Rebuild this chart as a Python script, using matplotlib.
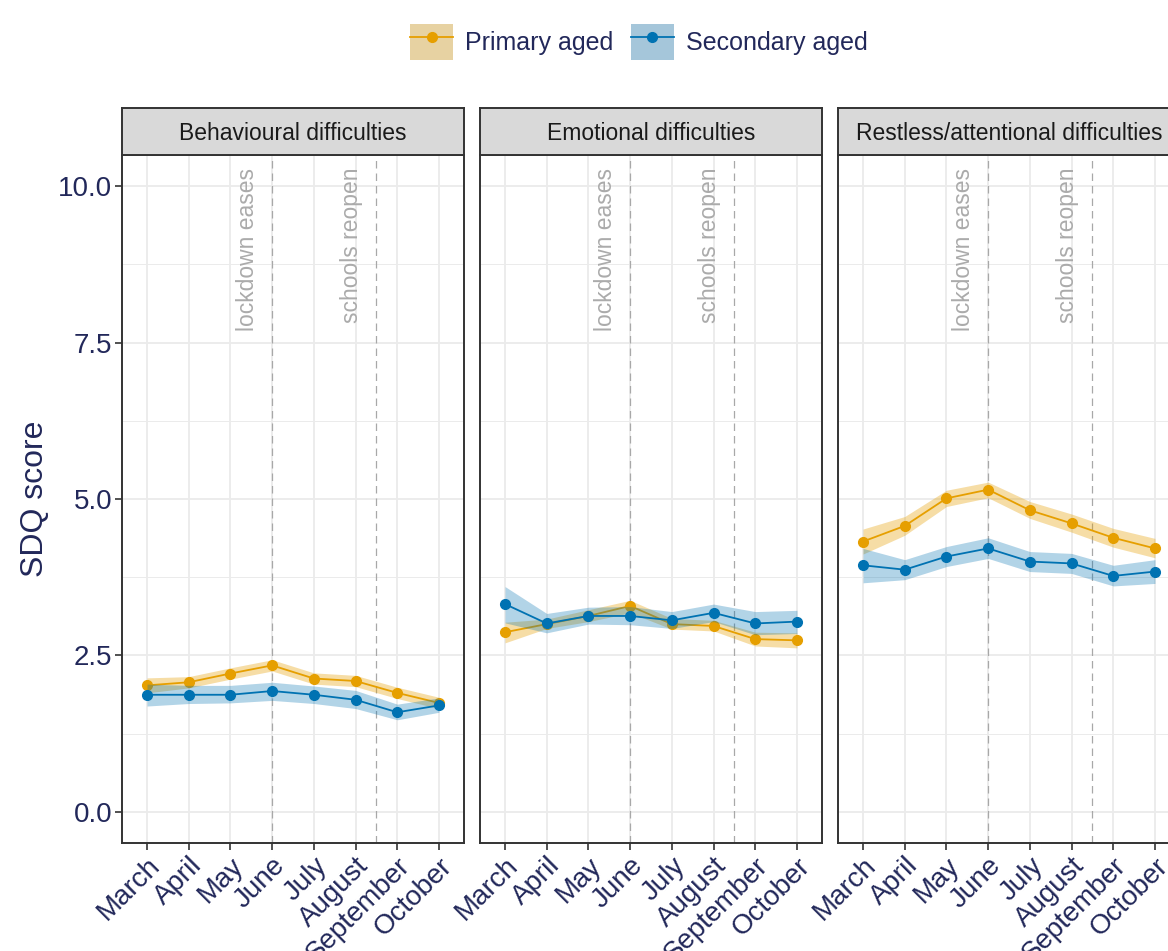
import matplotlib
matplotlib.use("Agg")
import matplotlib.pyplot as plt
from matplotlib.patches import Patch
from matplotlib.lines import Line2D
from matplotlib.legend_handler import HandlerTuple

plt.rcParams['font.family'] = ['Liberation Sans', 'DejaVu Sans']

months = ["March", "April", "May", "June", "July", "August", "September", "October"]
panels = ["Behavioural difficulties", "Emotional difficulties", "Restless/attentional difficulties"]
groups = ["Primary aged", "Secondary aged"]

# mean SDQ score with lower / upper bounds, per panel
primary_mean = [
    [2.02, 2.07, 2.21, 2.34, 2.13, 2.09, 1.90, 1.74],
    [2.87, 3.00, 3.13, 3.29, 3.00, 2.97, 2.76, 2.74],
    [4.32, 4.57, 5.01, 5.15, 4.82, 4.61, 4.38, 4.21],
]
primary_lo = [
    [1.90, 1.98, 2.12, 2.25, 2.04, 2.00, 1.81, 1.65],
    [2.70, 2.93, 3.04, 3.18, 2.92, 2.89, 2.65, 2.62],
    [4.12, 4.42, 4.88, 5.02, 4.69, 4.47, 4.23, 4.06],
]
primary_hi = [
    [2.14, 2.16, 2.30, 2.43, 2.22, 2.18, 1.99, 1.83],
    [3.03, 3.08, 3.23, 3.38, 3.09, 3.06, 2.87, 2.86],
    [4.52, 4.72, 5.14, 5.27, 4.96, 4.76, 4.53, 4.37],
]
secondary_mean = [
    [1.87, 1.87, 1.87, 1.93, 1.87, 1.79, 1.59, 1.70],
    [3.32, 3.01, 3.13, 3.13, 3.06, 3.18, 3.01, 3.04],
    [3.94, 3.87, 4.08, 4.21, 4.00, 3.97, 3.77, 3.84],
]
secondary_lo = [
    [1.69, 1.73, 1.74, 1.78, 1.73, 1.65, 1.47, 1.59],
    [3.02, 2.86, 3.00, 2.99, 2.93, 3.04, 2.83, 2.85],
    [3.66, 3.71, 3.92, 4.05, 3.84, 3.81, 3.61, 3.65],
]
secondary_hi = [
    [2.04, 2.02, 2.02, 2.07, 2.01, 1.94, 1.72, 1.82],
    [3.60, 3.17, 3.27, 3.28, 3.20, 3.32, 3.20, 3.22],
    [4.21, 4.03, 4.24, 4.38, 4.16, 4.13, 3.94, 4.03],
]

# events: (x position in month units, label)
events = [(4.0, "lockdown eases"), (6.5, "schools reopen")]

orange = "#E69F00"
blue = "#0072B2"
border = "#333333"
tick_col = "#22285a"

W, H = 1168, 951
fig = plt.figure(figsize=(W / 100, H / 100), dpi=100)

x = list(range(1, len(months) + 1))
lefts = [122, 480, 838]
pw = 342
top, bottom, strip_h = 155, 843, 47

for i, name in enumerate(panels):
    ax = fig.add_axes([lefts[i] / W, 1 - bottom / H, pw / W, (bottom - top) / H])
    ax.set_xlim(0.4, 8.6)
    ax.set_ylim(-0.5, 10.5)
    ax.set_xticks(x)
    ax.set_yticks([0, 2.5, 5, 7.5, 10])
    ax.set_yticks([1.25, 3.75, 6.25, 8.75], minor=True)
    ax.grid(which='major', color='#EBEBEB', lw=1.3)
    ax.grid(which='minor', axis='y', color='#EBEBEB', lw=0.7)
    ax.set_axisbelow(True)

    for ex, lab in events:
        ax.axvline(ex, color='#A8A8A8', lw=0.9, ls=(0, (6, 4)), zorder=1)
        ax.text(ex - 0.6, 10.3, lab, rotation=90, ha='center', va='top',
                color='#ABABAB', fontsize=16.5)

    ax.fill_between(x, primary_lo[i], primary_hi[i], color=orange, alpha=0.35, lw=0, zorder=2)
    ax.plot(x, primary_mean[i], color=orange, lw=1.3, marker='o', ms=7, zorder=3)
    ax.fill_between(x, secondary_lo[i], secondary_hi[i], color=blue, alpha=0.3, lw=0, zorder=4)
    ax.plot(x, secondary_mean[i], color=blue, lw=1.3, marker='o', ms=7, zorder=5)

    for s in ax.spines.values():
        s.set_color(border)
        s.set_linewidth(1.4)
    ax.tick_params(which='major', length=5, width=1.2, color=border,
                   labelcolor=tick_col, labelsize=20, pad=2)
    ax.tick_params(which='minor', length=0)
    ax.set_xticklabels(months, rotation=45, ha='right', va='top', rotation_mode='anchor')
    if i == 0:
        ax.set_yticklabels(["0.0", "2.5", "5.0", "7.5", "10.0"])
        ax.set_ylabel("SDQ score", fontsize=23, color=tick_col, labelpad=6)
    else:
        ax.tick_params(axis='y', which='major', length=0)
        ax.set_yticklabels([])

    # facet strip
    sax = fig.add_axes([lefts[i] / W, 1 - top / H, pw / W, strip_h / H])
    sax.set_facecolor('#D9D9D9')
    sax.set_xticks([])
    sax.set_yticks([])
    for s in sax.spines.values():
        s.set_color(border)
        s.set_linewidth(1.4)
    sax.text(0.5, 0.45, name, ha='center', va='center', fontsize=16.5,
             color='#1a1a1a', transform=sax.transAxes)

handles = [
    (Patch(facecolor='#E7D2A2', edgecolor='none'),
     Line2D([], [], color=orange, lw=1.3, marker='o', ms=7)),
    (Patch(facecolor='#A5C6DA', edgecolor='none'),
     Line2D([], [], color=blue, lw=1.3, marker='o', ms=7)),
]
fig.legend(handles, groups, loc='center', bbox_to_anchor=(639 / W, 1 - 42 / H),
           ncol=2, frameon=False, fontsize=18, labelcolor=tick_col,
           handler_map={tuple: HandlerTuple(ndivide=1, pad=0)},
           handlelength=1.7, handleheight=1.8, handletextpad=0.5, columnspacing=0.7,
           borderpad=0)

fig.savefig("out.png", dpi=100)
